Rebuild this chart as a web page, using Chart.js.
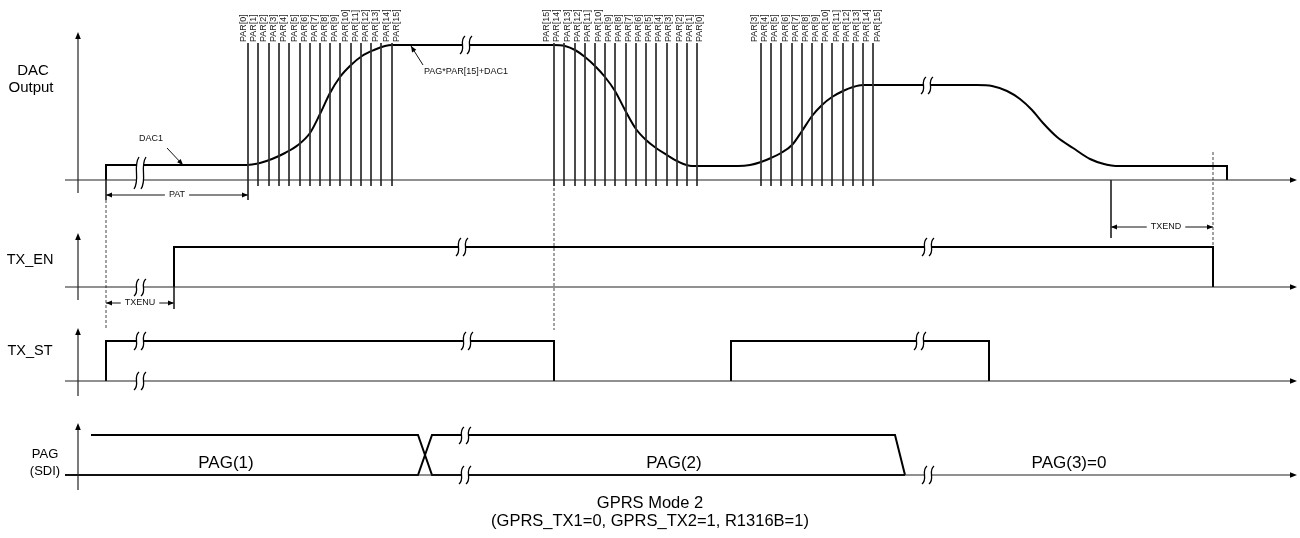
<!DOCTYPE html>
<html>
<head>
<meta charset="utf-8">
<style>
  html, body { margin: 0; padding: 0; background: #fff; overflow: hidden; }
  canvas { display: block; }
</style>
</head>
<body>
<canvas id="timing" width="1300" height="538"></canvas>
<script src="https://cdn.jsdelivr.net/npm/chart.js"></script>
<script>
// --- diagram data (x = time position, y = page level, 0 at top) ---
const laneBase = [180, 287, 381, 475];          // DAC, TX_EN, TX_ST, PAG baselines
const axisTop = [32, 233, 328, 423];
const axisBottom = [193, 300, 396, 490];
const axisX = 78, axisStart = 65, axisEnd = 1297;

const dacStep = [[106, 180], [106, 165], [248, 165]];
const dacCurveX = [248, 260, 272, 285, 298, 310, 320, 330, 340, 351, 362, 374, 385, 392,
  553, 565, 575, 585, 595, 605, 615, 625, 636, 646, 656, 667, 677, 692,
  738, 750, 761, 771, 781, 792, 802, 812, 822, 832, 843, 853, 863,
  977, 992, 1007, 1020, 1032, 1043, 1057, 1073, 1090, 1104, 1115];
const dacCurveY = [165, 163, 159, 153, 145, 133, 114, 93, 77, 65, 56, 50, 46, 45,
  45, 46, 50, 57, 66, 77, 91, 110, 129, 140, 148, 155, 161, 166,
  166, 165, 162, 158, 153, 145, 131, 116, 105, 97, 91, 87, 85,
  85, 86, 91, 99, 110, 123, 137, 148, 159, 164, 166];
const dacTail = [[1115, 166], [1227, 166], [1227, 180]];

const txEn = [[174, 287], [174, 247], [1213, 247], [1213, 287]];
const txStPulse1 = [[106, 381], [106, 341], [554, 341], [554, 381]];
const txStPulse2 = [[731, 381], [731, 341], [989, 341], [989, 381]];
const pagLineA = [[91, 435], [418, 435], [432, 475], [905, 475]];
const pagLineB = [[65, 475], [418, 475], [432, 435], [895, 435], [905, 475]];

// PAR step markers
const parRiseX = [248, 258, 269, 279, 289, 300, 310, 320, 330, 340, 351, 361, 371, 381, 392];
const parRiseLabelX = [244, 254, 264, 274, 284, 295, 305, 315, 325, 335, 346, 356, 366, 376, 387, 397];
const parRiseLabels = ['PAR[0]', 'PAR[1]', 'PAR[2]', 'PAR[3]', 'PAR[4]', 'PAR[5]', 'PAR[6]', 'PAR[7]',
  'PAR[8]', 'PAR[9]', 'PAR[10]', 'PAR[11]', 'PAR[12]', 'PAR[13]', 'PAR[14]', 'PAR[15]'];
const parFallX = [554, 564, 575, 585, 595, 605, 615, 626, 636, 646, 656, 667, 677, 687, 697];
const parFallLabelX = [547, 557, 568, 578, 588, 599, 609, 619, 629, 639, 649, 659, 669, 680, 690, 700];
const parFallLabels = ['PAR[15]', 'PAR[14]', 'PAR[13]', 'PAR[12]', 'PAR[11]', 'PAR[10]', 'PAR[9]', 'PAR[8]',
  'PAR[7]', 'PAR[6]', 'PAR[5]', 'PAR[4]', 'PAR[3]', 'PAR[2]', 'PAR[1]', 'PAR[0]'];
const parRise2X = [761, 771, 781, 792, 802, 812, 822, 832, 843, 853, 863, 873];
const parRise2LabelX = [755, 765, 775, 786, 796, 806, 816, 826, 837, 847, 857, 867, 878];
const parRise2Labels = ['PAR[3]', 'PAR[4]', 'PAR[5]', 'PAR[6]', 'PAR[7]', 'PAR[8]', 'PAR[9]',
  'PAR[10]', 'PAR[11]', 'PAR[12]', 'PAR[13]', 'PAR[14]', 'PAR[15]'];
const parTop = 43, parBottom = 186, parLabelBase = 42;

// guides and dimensions
const dashedGuides = [[106, 200, 106, 328], [554, 183, 554, 330], [1213, 152, 1213, 247]];
const solidTicks = [[106, 180, 106, 200], [248, 186, 248, 200], [174, 287, 174, 309], [1111, 180, 1111, 238]];
const dimArrows = [[106, 195, 248, 195], [106, 303, 174, 303], [1111, 227, 1213, 227]];
const pointerArrows = [[167, 148, 183, 165], [423, 65, 411, 46]];

// break marks: x, top, bottom
const breaks = [[140, 157, 189], [466, 36, 54], [927, 77, 94],
  [462, 238, 256], [928, 238, 256], [140, 279, 296],
  [140, 332, 350], [467, 332, 350], [920, 332, 350], [140, 372, 390],
  [465, 427, 444], [465, 466, 484], [928, 466, 484]];

// text: label, x, y, size, white backing
const laneLabels = [['DAC', 33, 71, 15], ['Output', 31, 88, 15], ['TX_EN', 30, 260, 14.5],
  ['TX_ST', 30, 351, 14.5], ['PAG', 45, 454, 13], ['(SDI)', 45, 471, 13]];
const busLabels = [['PAG(1)', 226, 463, 17], ['PAG(2)', 674, 463, 17], ['PAG(3)=0', 1069, 463, 17]];
const noteLabels = [['DAC1', 151, 139, 9, false], ['PAG*PAR[15]+DAC1', 466, 72, 9, false],
  ['PAT', 177, 195, 9, true], ['TXENU', 140, 303, 9, true], ['TXEND', 1166, 227, 9, true]];
const captionLines = [['GPRS Mode 2', 650, 503, 16.5], ['(GPRS_TX1=0, GPRS_TX2=1, R1316B=1)', 650, 521, 16.5]];

const FONT = '"Liberation Sans", Arial, Helvetica, sans-serif';

function seg(points, width, color, extra) {
  return Object.assign({
    data: points.map(p => ({ x: p[0], y: p[1] })),
    showLine: true, borderColor: color, borderWidth: width,
    pointRadius: 0, tension: 0, fill: false
  }, extra || {});
}

const datasets = [];
// axes
laneBase.forEach((b, i) => {
  datasets.push(seg([[axisStart, b], [axisEnd - 4, b]], 1.2, '#222'));
  datasets.push(seg([[axisX, axisBottom[i]], [axisX, axisTop[i] + 4]], 1.2, '#222'));
});
// PAR markers
parRiseX.concat(parFallX, parRise2X).forEach(x => {
  datasets.push(seg([[x, parTop], [x, parBottom]], 1, '#333'));
});
// guides
dashedGuides.forEach(g => datasets.push(seg([[g[0], g[1]], [g[2], g[3]]], 1, '#444', { borderDash: [3, 2] })));
solidTicks.forEach(g => datasets.push(seg([[g[0], g[1]], [g[2], g[3]]], 1, '#333')));
dimArrows.concat(pointerArrows).forEach(g => datasets.push(seg([[g[0], g[1]], [g[2], g[3]]], 1, '#111')));
// signals
datasets.push(seg(dacStep, 2, '#000'));
datasets.push({
  data: dacCurveX.map((x, i) => ({ x: x, y: dacCurveY[i] })),
  showLine: true, borderColor: '#000', borderWidth: 2, pointRadius: 0,
  cubicInterpolationMode: 'monotone', fill: false
});
datasets.push(seg(dacTail, 2, '#000'));
datasets.push(seg(txEn, 2, '#000'));
datasets.push(seg(txStPulse1, 2, '#000'));
datasets.push(seg(txStPulse2, 2, '#000'));
datasets.push(seg(pagLineA, 2, '#000'));
datasets.push(seg(pagLineB, 2, '#000'));

function arrowHead(ctx, x1, y1, x2, y2, len, half) {
  const a = Math.atan2(y2 - y1, x2 - x1);
  const c = Math.cos(a), s = Math.sin(a);
  ctx.beginPath();
  ctx.moveTo(x2, y2);
  ctx.lineTo(x2 - len * c + half * s, y2 - len * s - half * c);
  ctx.lineTo(x2 - len * c - half * s, y2 - len * s + half * c);
  ctx.closePath();
  ctx.fill();
}

const diagramPlugin = {
  id: 'diagram',
  beforeDraw(chart) {
    const ctx = chart.ctx;
    ctx.save();
    ctx.fillStyle = '#fff';
    ctx.fillRect(0, 0, chart.width, chart.height);
    ctx.restore();
  },
  afterDatasetsDraw(chart) {
    const ctx = chart.ctx;
    const X = v => chart.scales.x.getPixelForValue(v);
    const Y = v => chart.scales.y.getPixelForValue(v);
    ctx.save();

    // break marks
    breaks.forEach(([bx, t, b]) => {
      const top = Y(t), bot = Y(b), h = bot - top;
      const a = X(bx) - 3.5, c = X(bx) + 3.5;
      ctx.beginPath();
      ctx.moveTo(a + 2.5, top);
      ctx.bezierCurveTo(a - 4, top + h * 0.3, a + 4, top + h * 0.7, a - 2.5, bot);
      ctx.lineTo(c - 2.5, bot);
      ctx.bezierCurveTo(c + 4, top + h * 0.7, c - 4, top + h * 0.3, c + 2.5, top);
      ctx.closePath();
      ctx.fillStyle = '#fff';
      ctx.fill();
      ctx.strokeStyle = '#000';
      ctx.lineWidth = 1.3;
      [a, c].forEach(m => {
        ctx.beginPath();
        ctx.moveTo(m + 2.5, top);
        ctx.bezierCurveTo(m - 4, top + h * 0.3, m + 4, top + h * 0.7, m - 2.5, bot);
        ctx.stroke();
      });
    });

    // arrowheads
    ctx.fillStyle = '#000';
    laneBase.forEach((b, i) => {
      arrowHead(ctx, X(axisStart), Y(b), X(axisEnd), Y(b), 7, 2.8);
      arrowHead(ctx, X(axisX), Y(axisBottom[i]), X(axisX), Y(axisTop[i]), 7, 2.8);
    });
    dimArrows.forEach(g => {
      arrowHead(ctx, X(g[0]), Y(g[1]), X(g[2]), Y(g[3]), 6, 2.5);
      arrowHead(ctx, X(g[2]), Y(g[3]), X(g[0]), Y(g[1]), 6, 2.5);
    });
    pointerArrows.forEach(g => arrowHead(ctx, X(g[0]), Y(g[1]), X(g[2]), Y(g[3]), 6, 2.5));

    // text
    ctx.textAlign = 'center';
    ctx.textBaseline = 'middle';
    const put = (t, x, y, size, backing, color) => {
      ctx.font = size + 'px ' + FONT;
      if (backing) {
        const w = ctx.measureText(t).width;
        ctx.fillStyle = '#fff';
        ctx.fillRect(X(x) - w / 2 - 4, Y(y) - size / 2 - 1, w + 8, size + 2);
      }
      ctx.fillStyle = color || '#000';
      ctx.fillText(t, X(x), Y(y));
    };
    laneLabels.forEach(l => put(l[0], l[1], l[2], l[3]));
    busLabels.forEach(l => put(l[0], l[1], l[2], l[3]));
    captionLines.forEach(l => put(l[0], l[1], l[2], l[3]));
    noteLabels.forEach(l => put(l[0], l[1], l[2], l[3], l[4], '#111'));

    // rotated PAR labels
    const rotated = (labels, xs) => labels.forEach((t, i) => {
      ctx.save();
      ctx.translate(X(xs[i]), Y(parLabelBase));
      ctx.rotate(-Math.PI / 2);
      ctx.textAlign = 'left';
      ctx.textBaseline = 'middle';
      ctx.font = '9px ' + FONT;
      ctx.fillStyle = '#222';
      ctx.fillText(t, 0, 0);
      ctx.restore();
    });
    rotated(parRiseLabels, parRiseLabelX);
    rotated(parFallLabels, parFallLabelX);
    rotated(parRise2Labels, parRise2LabelX);

    ctx.restore();
  }
};

new Chart(document.getElementById('timing').getContext('2d'), {
  type: 'scatter',
  data: { datasets: datasets },
  options: {
    responsive: false,
    animation: false,
    layout: { padding: 0 },
    plugins: { legend: { display: false }, tooltip: { enabled: false } },
    scales: {
      x: { type: 'linear', min: 0, max: 1300, display: false },
      y: { type: 'linear', min: 0, max: 538, reverse: true, display: false }
    }
  },
  plugins: [diagramPlugin]
});
</script>
</body>
</html>
